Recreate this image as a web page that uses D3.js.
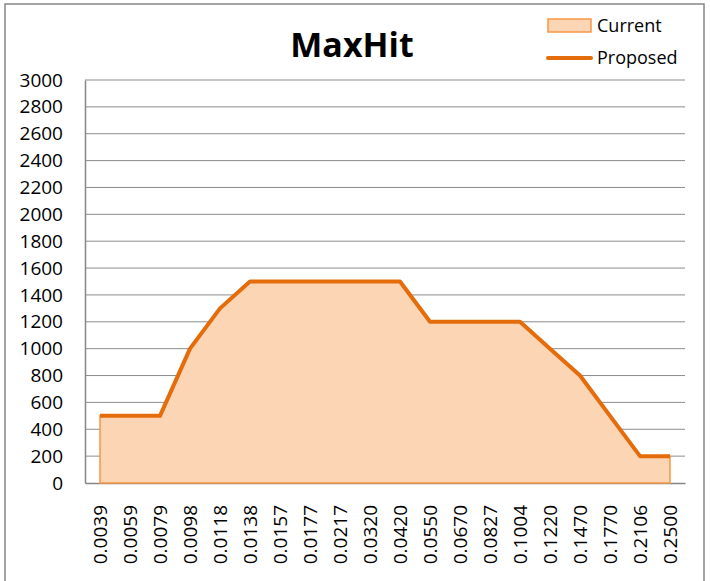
<!DOCTYPE html>
<html>
<head>
<meta charset="utf-8">
<script src="https://cdn.jsdelivr.net/npm/d3@7"></script>
<style>
  body { margin: 0; background: #fff; }
  text { font-family: "Open Sans", sans-serif; fill: #000; }
</style>
</head>
<body>
<div id="chart"></div>
<script>
// chart data
const categories = ["0.0039", "0.0059", "0.0079", "0.0098", "0.0118", "0.0138", "0.0157", "0.0177", "0.0217", "0.0320",
    "0.0420", "0.0550", "0.0670", "0.0827", "0.1004", "0.1220", "0.1470", "0.1770", "0.2106", "0.2500"];
const currentValues = [500, 500, 500, 1000, 1300, 1500, 1500, 1500, 1500, 1500,
    1500, 1200, 1200, 1200, 1200, 1000, 800, 500, 200, 200];
const proposedValues = [500, 500, 500, 1000, 1300, 1500, 1500, 1500, 1500, 1500,
    1500, 1200, 1200, 1200, 1200, 1000, 800, 500, 200, 200];
const yTicks = [0, 200, 400, 600, 800, 1000, 1200, 1400, 1600, 1800, 2000, 2200, 2400, 2600, 2800, 3000];
const seriesNames = ["Current", "Proposed"];

const W = 710, H = 581;
const margin = {top: 80, right: 25, bottom: 98, left: 85};
const width = W - margin.left - margin.right;
const height = H - margin.top - margin.bottom;

const svg = d3.select("#chart").append("svg")
    .attr("width", W)
    .attr("height", H);

// outer frame
svg.append("rect")
    .attr("x", 5).attr("y", 4)
    .attr("width", 699).attr("height", 600)
    .attr("fill", "none")
    .attr("stroke", "#868686")
    .attr("stroke-width", 1.5);

const g = svg.append("g")
    .attr("transform", `translate(${margin.left},${margin.top})`);

const x = d3.scaleBand()
    .domain(categories)
    .range([0, width]);

const y = d3.scaleLinear()
    .domain([0, 3000])
    .range([height, 0]);

// gridlines
g.append("g")
    .selectAll("line")
    .data(yTicks.filter(d => d > 0))
    .join("line")
    .attr("x1", 0).attr("x2", width)
    .attr("y1", d => y(d)).attr("y2", d => y(d))
    .attr("stroke", "#8c8c8c")
    .attr("stroke-width", 1);

// y axis
const yAxis = g.append("g")
    .call(d3.axisLeft(y).tickValues(yTicks).tickFormat(d3.format("d")).tickSize(0).tickPadding(22));
yAxis.select(".domain").attr("stroke", "#868686").attr("stroke-width", 1.5);
yAxis.selectAll("text")
    .style("font-family", "'Open Sans', sans-serif")
    .style("font-size", "19px")
    .attr("fill", "#000");

// x axis
const xAxis = g.append("g")
    .attr("transform", `translate(0,${height})`)
    .call(d3.axisBottom(x).tickSize(0).tickPadding(0));
xAxis.select(".domain").attr("stroke", "#868686").attr("stroke-width", 1.5);
xAxis.selectAll("text")
    .style("font-family", "'Open Sans', sans-serif")
    .style("font-size", "19px")
    .attr("fill", "#000")
    .attr("text-anchor", "end")
    .attr("transform", "translate(0,22) rotate(-90)")
    .attr("x", 0)
    .attr("y", 0)
    .attr("dy", "0.35em");

const cx = d => x(d) + x.bandwidth() / 2;

// current area
const area = d3.area()
    .x((d, i) => cx(categories[i]))
    .y0(height)
    .y1(d => y(d));

g.append("path")
    .datum(currentValues)
    .attr("d", area)
    .attr("fill", "#fcd5b5")
    .attr("stroke", "#f79646")
    .attr("stroke-width", 1.5);

// proposed line
const line = d3.line()
    .x((d, i) => cx(categories[i]))
    .y(d => y(d));

g.append("path")
    .datum(proposedValues)
    .attr("d", line)
    .attr("fill", "none")
    .attr("stroke", "#e46c0a")
    .attr("stroke-width", 4)
    .attr("stroke-linejoin", "round");

// title
svg.append("text")
    .attr("x", 352)
    .attr("y", 57)
    .attr("text-anchor", "middle")
    .style("font-size", "34px")
    .style("font-weight", "bold")
    .text("MaxHit");

// legend
const legend = svg.append("g")
    .attr("transform", "translate(548,19)");

legend.append("rect")
    .attr("x", 0).attr("y", 0)
    .attr("width", 43).attr("height", 13)
    .attr("fill", "#fcd5b5")
    .attr("stroke", "#f79646")
    .attr("stroke-width", 1.5);

legend.append("text")
    .attr("x", 49).attr("y", 13)
    .style("font-size", "18px")
    .text(seriesNames[0]);

legend.append("line")
    .attr("x1", 0).attr("x2", 43)
    .attr("y1", 39).attr("y2", 39)
    .attr("stroke", "#e46c0a")
    .attr("stroke-width", 4)
    .attr("stroke-linecap", "round");

legend.append("text")
    .attr("x", 49).attr("y", 45)
    .style("font-size", "18px")
    .text(seriesNames[1]);
</script>
</body>
</html>
